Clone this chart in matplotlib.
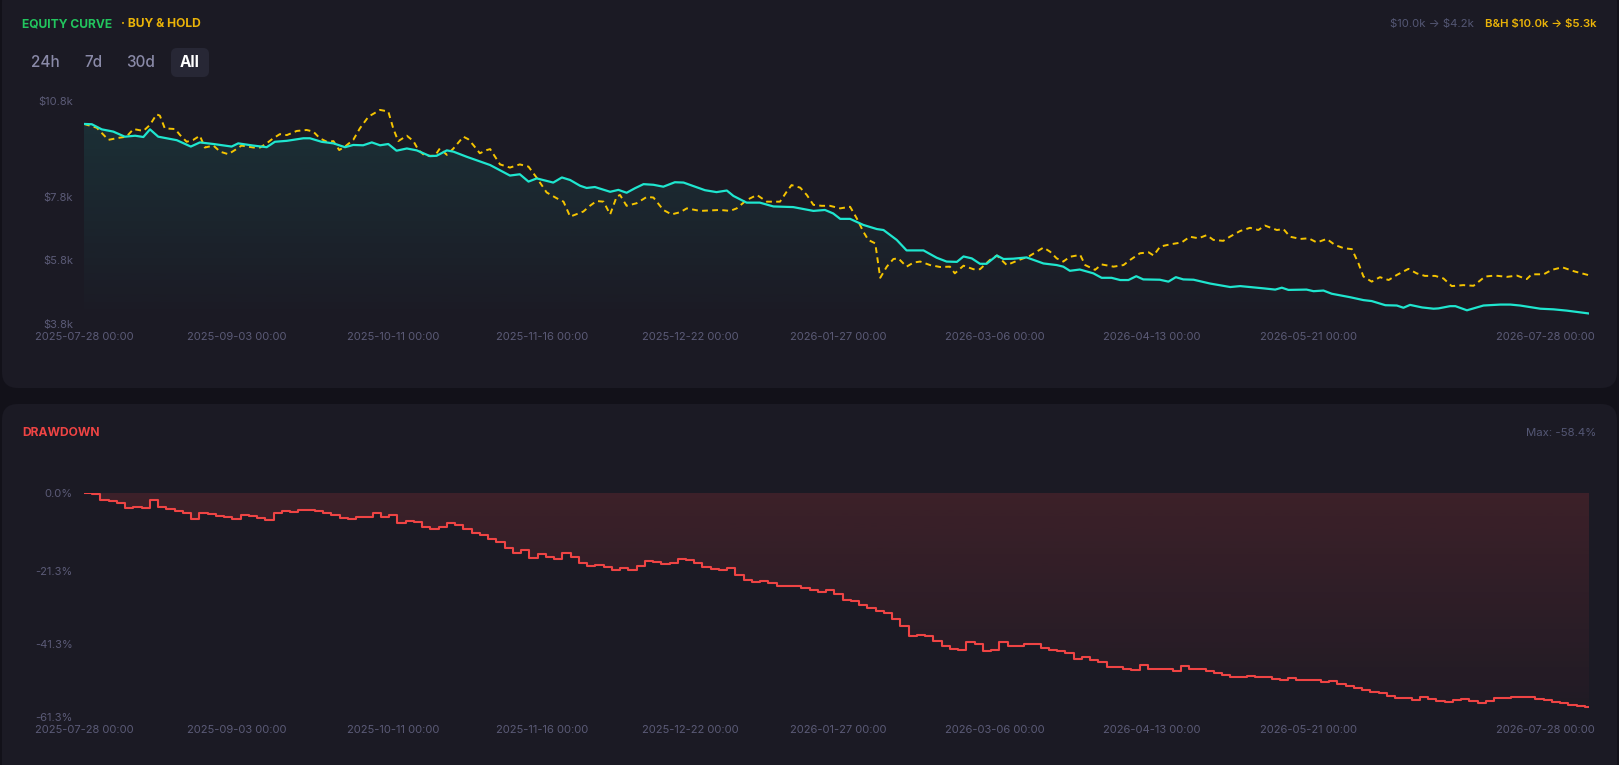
import numpy as np
import pandas as pd
import matplotlib
matplotlib.use("Agg")
import matplotlib.pyplot as plt
import matplotlib.dates as mdates
import matplotlib.colors as mcolors
import matplotlib.transforms as mtrans
from matplotlib.patches import FancyBboxPatch

plt.rcParams['font.family'] = ['Inter', 'DejaVu Sans']

# ---- data (values in $k, days counted from start) ----
start = pd.Timestamp("2025-07-28")
end = pd.Timestamp("2026-07-28")

eq_days = [0, 1.9, 4.3, 7.1, 9.9, 12.4, 14.4, 16.0, 18.0, 22.5,
           25.9, 28.1, 31.4, 35.8, 37.4, 41.1, 44.3, 46.3, 49.2, 53.2,
           54.8, 57.6, 60.5, 63.3, 65.3, 67.7, 69.8, 71.8, 73.8, 75.8,
           78.3, 80.7, 83.9, 85.5, 88.0, 89.6, 92.8, 98.5, 103.3, 105.7,
           107.8, 109.8, 113.8, 115.9, 117.9, 120.3, 121.9, 123.9, 127.6, 129.6,
           131.6, 133.6, 135.7, 138.1, 140.5, 143.3, 145.4, 147.8, 150.6, 153.4,
           155.9, 157.5, 160.7, 163.9, 167.2, 172.0, 176.9, 179.7, 181.7, 183.4,
           185.8, 189.0, 192.3, 193.9, 197.1, 199.5, 203.6, 206.8, 209.2, 211.7,
           213.3, 215.3, 217.3, 218.9, 221.4, 223.0, 225.4, 228.6, 232.7, 235.9,
           237.5, 239.1, 241.5, 244.8, 246.8, 249.2, 251.3, 253.3, 255.2, 256.9,
           260.9, 263.0, 264.8, 266.6, 269.1, 273.1, 278.0, 280.4, 286.0, 288.9,
           290.5, 292.1, 296.5, 298.2, 300.6, 302.6, 307.1, 310.3, 312.3, 315.6,
           318.4, 320.0, 321.6, 324.5, 327.3, 328.5, 331.3, 332.6, 335.4, 339.4,
           343.5, 345.9, 348.3, 353.2, 356.4, 359.6, 365]
eq_vals = [10.08, 10.07, 9.91, 9.84, 9.68, 9.71, 9.67, 9.91, 9.68, 9.57,
           9.37, 9.50, 9.45, 9.37, 9.47, 9.40, 9.35, 9.52, 9.55, 9.63,
           9.63, 9.52, 9.47, 9.35, 9.42, 9.41, 9.50, 9.41, 9.45, 9.24,
           9.31, 9.25, 9.07, 9.08, 9.25, 9.21, 9.05, 8.79, 8.46, 8.50,
           8.27, 8.37, 8.24, 8.40, 8.32, 8.14, 8.07, 8.10, 7.95, 8.01,
           7.92, 8.06, 8.19, 8.17, 8.11, 8.25, 8.24, 8.13, 8.00, 7.94,
           7.99, 7.82, 7.61, 7.61, 7.49, 7.47, 7.35, 7.38, 7.27, 7.10,
           7.10, 6.91, 6.78, 6.75, 6.44, 6.11, 6.11, 5.88, 5.76, 5.75,
           5.92, 5.86, 5.69, 5.69, 5.95, 5.84, 5.85, 5.89, 5.70, 5.65,
           5.60, 5.47, 5.51, 5.39, 5.25, 5.25, 5.18, 5.18, 5.30, 5.20,
           5.19, 5.13, 5.27, 5.20, 5.19, 5.07, 4.96, 4.99, 4.92, 4.88,
           4.94, 4.87, 4.88, 4.83, 4.85, 4.75, 4.64, 4.55, 4.52, 4.39,
           4.38, 4.31, 4.40, 4.32, 4.28, 4.29, 4.36, 4.36, 4.23, 4.38,
           4.41, 4.41, 4.38, 4.28, 4.26, 4.22, 4.13]

bh_days = [0, 3.1, 5.9, 8.7, 10.3, 12.0, 14.4, 16.0, 17.6, 18.4,
           19.6, 22.1, 23.3, 24.9, 26.5, 28.1, 29.3, 31.4, 33.0, 35.0,
           36.6, 38.2, 41.1, 42.7, 44.3, 45.9, 47.5, 49.2, 51.6, 54.0,
           55.6, 57.2, 58.9, 60.5, 61.9, 63.3, 65.3, 66.9, 69.0, 71.8,
           73.8, 75.0, 76.2, 78.3, 79.9, 81.1, 82.7, 85.1, 86.3, 88.0,
           89.6, 92.0, 93.2, 94.4, 96.0, 97.7, 98.5, 99.7, 100.9, 103.3,
           105.7, 107.8, 109.8, 112.2, 114.6, 116.3, 117.9, 121.1, 122.7, 124.3,
           126.0, 127.6, 129.2, 130.0, 131.6, 134.0, 136.5, 138.1, 140.5, 142.5,
           144.6, 146.2, 149.4, 154.3, 156.7, 158.3, 160.7, 163.2, 165.6, 168.8,
           170.4, 171.6, 173.7, 175.3, 176.9, 178.9, 180.9, 183.4, 185.8, 187.4,
           189.0, 190.2, 191.9, 193.1, 194.7, 196.3, 197.5, 199.5, 201.2, 202.8,
           205.2, 207.6, 210.0, 211.2, 213.3, 215.7, 217.3, 219.7, 221.4, 223.8,
           226.2, 227.8, 229.0, 232.7, 234.3, 235.9, 237.5, 239.1, 241.6, 242.8,
           245.2, 246.8, 249.7, 252.1, 253.7, 256.1, 258.2, 259.4, 261.0, 263.4,
           266.2, 268.2, 270.3, 272.3, 273.9, 276.3, 277.9, 280.4, 282.8, 284.8,
           286.4, 289.3, 290.9, 292.5, 295.0, 297.0, 299.0, 301.4, 303.4, 305.5,
           307.5, 309.1, 310.3, 312.3, 314.3, 316.4, 318.4, 321.2, 323.2, 325.2,
           327.7, 329.7, 331.7, 334.5, 337.0, 339.8, 342.2, 345.1, 347.5, 349.9,
           351.1, 354.0, 356.0, 358.5, 361.5, 365]
bh_vals = [10.08, 9.96, 9.58, 9.65, 9.68, 9.92, 9.86, 10.05, 10.38, 10.34,
           9.94, 9.92, 9.73, 9.52, 9.58, 9.71, 9.34, 9.40, 9.21, 9.13,
           9.26, 9.40, 9.34, 9.34, 9.47, 9.63, 9.76, 9.73, 9.86, 9.89,
           9.84, 9.63, 9.52, 9.54, 9.26, 9.37, 9.58, 9.94, 10.31, 10.52,
           10.47, 9.94, 9.54, 9.71, 9.54, 9.26, 9.08, 9.08, 9.31, 9.11,
           9.31, 9.68, 9.60, 9.42, 9.16, 9.26, 9.29, 9.05, 8.81, 8.71,
           8.81, 8.74, 8.39, 7.93, 7.75, 7.64, 7.17, 7.33, 7.51, 7.66,
           7.64, 7.24, 7.80, 7.85, 7.51, 7.59, 7.79, 7.77, 7.38, 7.24,
           7.31, 7.43, 7.35, 7.38, 7.35, 7.43, 7.69, 7.85, 7.64, 7.64,
           7.95, 8.16, 8.08, 7.85, 7.54, 7.51, 7.51, 7.43, 7.48, 7.12,
           6.70, 6.44, 6.33, 5.25, 5.60, 5.84, 5.86, 5.60, 5.73, 5.76,
           5.65, 5.59, 5.60, 5.39, 5.63, 5.52, 5.52, 5.81, 5.95, 5.65,
           5.78, 5.86, 5.91, 6.20, 6.07, 5.86, 5.76, 5.91, 5.97, 5.65,
           5.50, 5.67, 5.60, 5.65, 5.81, 6.02, 6.05, 5.95, 6.23, 6.30,
           6.36, 6.54, 6.49, 6.59, 6.44, 6.41, 6.54, 6.72, 6.82, 6.75,
           6.89, 6.75, 6.78, 6.54, 6.47, 6.49, 6.36, 6.47, 6.28, 6.18,
           6.15, 5.70, 5.29, 5.13, 5.27, 5.18, 5.34, 5.53, 5.39, 5.31,
           5.31, 5.23, 4.99, 5.02, 5.00, 5.29, 5.32, 5.28, 5.32, 5.21,
           5.36, 5.36, 5.50, 5.58, 5.45, 5.33]

# drawdown in %, one step every 2 days
dd_step = 2
dd_vals = [0.0, -0.2, -1.8, -2.1, -2.8, -4.1, -3.7, -4.1, -1.8, -3.8,
           -4.3, -4.8, -5.6, -7.0, -5.6, -5.7, -6.3, -6.6, -7.0, -5.9,
           -6.3, -6.8, -7.3, -5.5, -4.8, -5.3, -4.7, -4.6, -4.8, -5.6,
           -6.1, -6.7, -7.2, -6.5, -6.6, -5.6, -6.6, -6.1, -8.2, -7.6,
           -8.0, -9.2, -9.9, -9.4, -8.1, -8.8, -9.9, -10.8, -11.6, -12.5,
           -13.3, -15.1, -16.3, -15.6, -17.8, -16.8,
           -17.4, -18.1, -16.5, -17.4, -19.0, -19.9, -19.6, -20.3, -20.9, -20.5,
           -21.1, -19.9, -18.6, -18.8, -19.4, -19.0, -18.0, -18.2, -19.0, -20.1,
           -20.8, -20.9, -20.5, -22.4, -23.7, -24.4, -24.1, -24.5, -25.4, -25.5,
           -25.4, -25.9, -26.6, -27.0, -26.5, -27.6, -29.3, -29.4, -30.6, -31.3,
           -32.3, -32.7, -34.5, -36.3, -39.1, -38.7, -39.1, -40.3, -41.7, -42.5,
           -42.8, -40.8, -41.3, -43.2, -42.9, -40.6, -41.8, -41.7, -41.3, -41.3,
           -42.4,
           -43.0, -43.2, -43.8, -45.3, -44.9, -45.6, -46.3, -47.5, -47.5, -48.1,
           -48.3, -47.0, -48.0, -48.1, -48.1, -48.6, -47.3, -48.0, -48.1, -48.7,
           -49.3, -49.6, -50.2, -50.4, -50.0, -50.2, -50.4, -50.7, -51.2, -50.5,
           -51.2, -51.1, -51.1, -51.6, -51.4, -52.3, -52.7, -53.4, -53.8, -54.3,
           -54.6, -55.5, -56.1, -56.1, -56.6, -55.7, -56.4, -56.7, -57.0, -56.6,
           -56.3, -56.7, -57.5, -56.7, -56.1, -56.0, -55.7, -55.7, -55.7, -56.2,
           -56.6, -57.0, -57.5, -57.9, -58.2, -58.4]

tick_dates = ["2025-07-28", "2025-09-03", "2025-10-11", "2025-11-16", "2025-12-22",
              "2026-01-27", "2026-03-06", "2026-04-13", "2026-05-21", "2026-07-28"]
eq_ticks = [3.8, 5.8, 7.8, 10.8]
dd_ticks = [0.0, -21.3, -41.3, -61.3]

# ---- colours ----
OUTER = '#121119'
PANEL = '#1b1a24'
TICK = '#5b5b77'
TEAL = '#1fe6cf'
GOLD = '#f5c400'
RED = '#ef4444'

W, H = 1619, 765


def to_num(days):
    return mdates.date2num([start + pd.Timedelta(days=float(d)) for d in days])


def grad_fill(ax, x, y, base, color, a_top, a_bot, y_top, y_bot, step=None):
    poly = ax.fill_between(x, y, base, step=step, facecolor='none', edgecolor='none')
    rgba = np.zeros((256, 1, 4))
    rgba[:, :, :3] = mcolors.to_rgb(color)
    rgba[:, 0, 3] = np.linspace(a_top, a_bot, 256)
    im = ax.imshow(rgba, aspect='auto', origin='upper', interpolation='bilinear',
                   extent=[x[0], x[-1], y_bot, y_top], zorder=1)
    im.set_clip_path(poly.get_paths()[0], transform=ax.transData)


def style_axes(ax):
    ax.set_facecolor('none')
    for s in ax.spines.values():
        s.set_visible(False)
    ax.tick_params(length=0, colors=TICK, labelsize=8)
    ax.tick_params(axis='y', pad=8)
    ax.tick_params(axis='x', pad=5.5)
    ax.set_xlim(mdates.date2num(start), mdates.date2num(end))
    ax.set_xticks(mdates.date2num(pd.to_datetime(tick_dates)))
    ax.xaxis.set_major_formatter(mdates.DateFormatter('%Y-%m-%d %H:%M'))
    last = ax.get_xticklabels()[-1]
    last.set_ha('right')
    last.set_transform(last.get_transform() +
                       mtrans.ScaledTranslation(6 / 100, 0, fig.dpi_scale_trans))


fig = plt.figure(figsize=(W / 100, H / 100), dpi=100)
fig.patch.set_facecolor(OUTER)

# background panels, drawn in pixel coordinates
bg = fig.add_axes([0, 0, 1, 1])
bg.set_xlim(0, W)
bg.set_ylim(H, 0)
bg.axis('off')
bg.add_patch(FancyBboxPatch((2, -14), 1615, 402, boxstyle='round,pad=0,rounding_size=16',
                            fc=PANEL, ec='none'))
bg.add_patch(FancyBboxPatch((2, 404), 1615, 390, boxstyle='round,pad=0,rounding_size=16',
                            fc=PANEL, ec='none'))

# header of the equity panel
bg.text(22, 24, 'EQUITY CURVE', color='#22c55e', fontsize=8.7, fontweight='bold', va='center')
bg.text(121, 24, '· BUY & HOLD', color='#eab308', fontsize=8.7, fontweight='bold', va='center')
bg.text(1596, 24, 'B&H $10.0k → $5.3k', color='#eab308', fontsize=8.2, fontweight='semibold',
        va='center', ha='right', parse_math=False)
bg.text(1474, 24, '$10.0k → $4.2k', color='#545774', fontsize=8.2, va='center', ha='right',
        parse_math=False)

bg.add_patch(FancyBboxPatch((171, 48), 38, 29, boxstyle='round,pad=0,rounding_size=6',
                            fc='#272735', ec='none'))
for label, xc in [('24h', 45), ('7d', 93), ('30d', 141)]:
    bg.text(xc, 62, label, color='#8a8aa8', fontsize=11, fontweight='medium',
            va='center', ha='center')
bg.text(190, 62, 'All', color='#ffffff', fontsize=11, fontweight='bold', va='center', ha='center')

# header of the drawdown panel
bg.text(22, 433, 'DRAWDOWN', color=RED, fontsize=8.7, fontweight='bold', va='center')
bg.text(1596, 433, 'Max: -58.4%', color='#545774', fontsize=8.2, va='center', ha='right')

# ---- equity axes ----
left, right = 84, 1589
ax1 = fig.add_axes([left / W, 1 - 324 / H, (right - left) / W, (324 - 101) / H])
style_axes(ax1)
x_eq = to_num(eq_days)
x_bh = to_num(bh_days)
grad_fill(ax1, x_eq, eq_vals, eq_ticks[0], TEAL, 0.12, 0.0, eq_ticks[-1], eq_ticks[0])
ax1.plot(x_bh, bh_vals, color=GOLD, lw=1.4, ls=(0, (3, 2.2)), zorder=3)
ax1.plot(x_eq, eq_vals, color=TEAL, lw=1.6, zorder=4)
ax1.set_ylim(eq_ticks[0], eq_ticks[-1])
ax1.set_yticks(eq_ticks)
ax1.set_yticklabels([f'${v:.1f}k' for v in eq_ticks])
ax1.set_xlim(mdates.date2num(start), mdates.date2num(end))

# ---- drawdown axes ----
top_px, bot_px = 493, 717.4
ax2 = fig.add_axes([left / W, 1 - bot_px / H, (right - left) / W, (bot_px - top_px) / H])
style_axes(ax2)
dd_days = [i * dd_step for i in range(len(dd_vals))] + [365]
x_dd = to_num(dd_days)
y_dd = dd_vals + [dd_vals[-1]]
grad_fill(ax2, x_dd, y_dd, 0, RED, 0.16, 0.02, dd_ticks[0], dd_ticks[-1], step='post')
ax2.step(x_dd, y_dd, where='post', color=RED, lw=1.5, zorder=4)
ax2.set_ylim(dd_ticks[-1], dd_ticks[0])
ax2.set_yticks(dd_ticks)
ax2.set_yticklabels([f'{v:.1f}%' for v in dd_ticks])
ax2.set_xlim(mdates.date2num(start), mdates.date2num(end))

fig.savefig('out.png', dpi=100, facecolor=OUTER)
